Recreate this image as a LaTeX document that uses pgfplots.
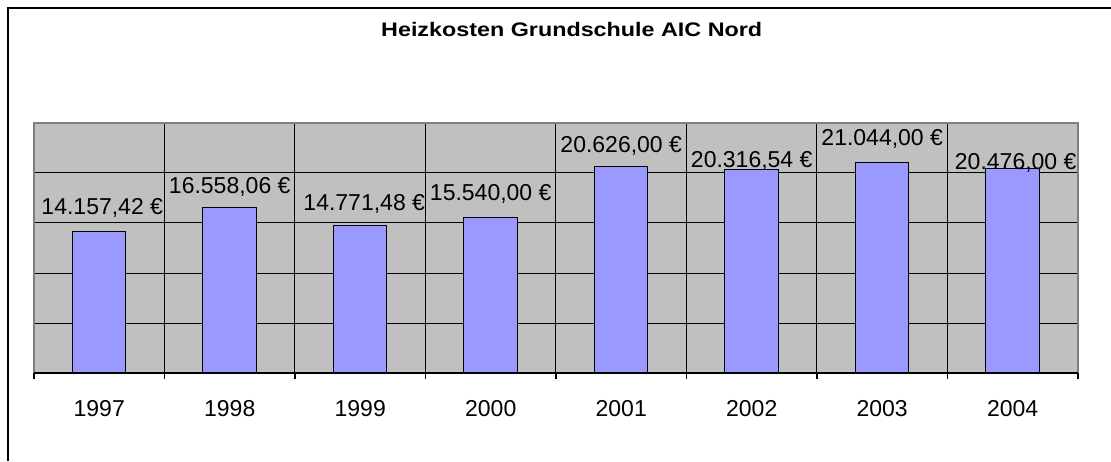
\documentclass[border=0pt]{standalone}
\usepackage{fontspec}
\setmainfont{Liberation Sans}
\usepackage{graphicx}
\usepackage{pgfplots}
\usepackage{pgfplotstable}
\pgfplotsset{compat=1.18}
\definecolor{barfill}{HTML}{9999FF}
\definecolor{plotbg}{HTML}{C0C0C0}
\definecolor{bordergray}{HTML}{808080}
\pgfplotstableread{
x y lab off xoff
0 14157.42 14.157,42 16.7 3
1 16558.06 16.558,06 14.4 0
2 14771.48 14.771,48 15.0 4
3 15540.00 15.540,00 16.7 0
4 20626.00 20.626,00 14.4 0
5 20316.54 20.316,54 2.3 0
6 21044.00 21.044,00 16.7 0
7 20476.00 20.476,00 -1.7 3
}\datatable
\begin{document}
\begin{tikzpicture}[x=1pt,y=1pt]
\useasboundingbox (0,0) rectangle (1111,461);
\draw[line width=2pt] (8.3,0) -- (8.3,452.7) -- (1111,452.7);
\node[anchor=base] at (571.7,424) {\scalebox{1.19}[1]{\fontsize{19.6}{20}\selectfont\bfseries Heizkosten Grundschule AIC Nord}};
\begin{axis}[
  at={(34pt,88pt)}, anchor=south west,
  scale only axis, width=1044pt, height=250pt,
  xmin=-0.5, xmax=7.5, ymin=0, ymax=25000,
  scaled y ticks=false,
  axis background/.style={fill=plotbg},
  axis line style={draw=none},
  xtick={0,...,7},
  xticklabels={1997,1998,1999,2000,2001,2002,2003,2004},
  minor xtick={-0.5,0.5,...,7.5},
  ytick={0,5000,...,25000},
  yticklabels={},
  xminorgrids=true, ymajorgrids=true, xmajorgrids=false,
  grid style={black, line width=1pt},
  minor grid style={black, line width=1pt},
  tick align=outside,
  xtick pos=bottom, ytick pos=left,
  major tick length=0pt, minor tick length=6pt,
  minor tick style={black, line width=1.2pt},
  xticklabel style={anchor=north, inner sep=0pt, yshift=-27pt, font=\fontsize{23}{23}\selectfont},
  ybar, bar width=53.5pt, bar shift=0pt,
  after end axis/.code={
    \draw[bordergray, line width=1.5pt] (rel axis cs:0,0) -- (rel axis cs:0,1) -- (rel axis cs:1,1) -- (rel axis cs:1,0);
    \draw[black, line width=1.3pt] (rel axis cs:0,0) -- (rel axis cs:1,0);
  },
]
\addplot[fill=barfill, draw=black, line width=1pt,
  point meta=explicit symbolic,
  visualization depends on={\thisrow{off} \as \offval},
  visualization depends on={\thisrow{xoff} \as \xoffval},
  nodes near coords={\pgfplotspointmeta~€},
  nodes near coords style={anchor=base, inner sep=0pt, yshift=\offval pt, xshift=\xoffval pt, font=\fontsize{23}{23}\selectfont, black},
] table[x=x, y=y, meta=lab] {\datatable};
\end{axis}
\end{tikzpicture}
\end{document}
